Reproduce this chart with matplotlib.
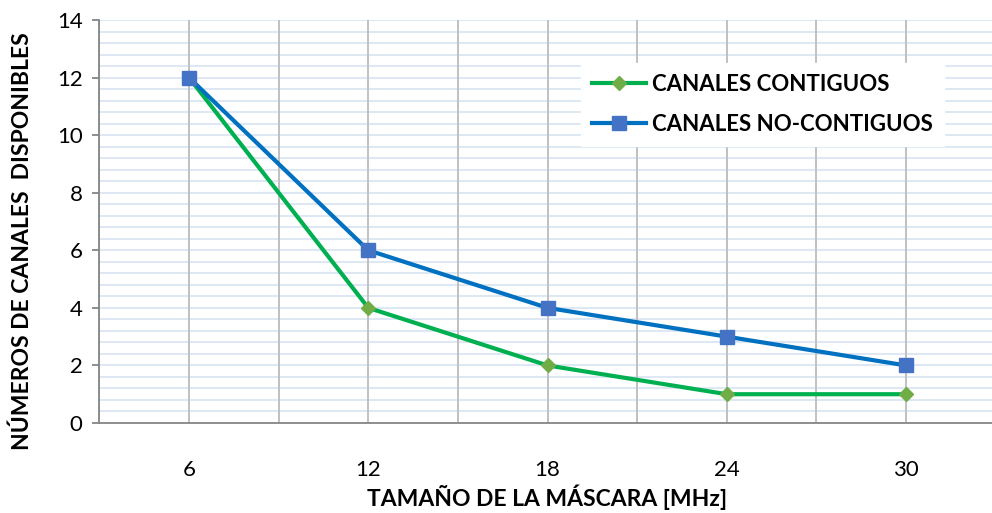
import matplotlib
matplotlib.use("Agg")
import matplotlib.pyplot as plt
import numpy as np
from matplotlib.ticker import MultipleLocator

plt.rcParams['font.family'] = ['Lato', 'DejaVu Sans']

categories = ['6', '12', '18', '24', '30']
contiguos = [12, 4, 2, 1, 1]
no_contiguos = [12, 6, 4, 3, 2]

fig = plt.figure(figsize=(9.92, 5.13), dpi=100)
ax = fig.add_axes([99.4/992, 1-423/513, (995.6-99.4)/992, (423-20)/513])

x = np.arange(len(categories))
ax.plot(x, contiguos, color='#00b050', lw=3, marker='D', ms=7.5,
        mfc='#70ad47', mec='#70ad47', label='CANALES CONTIGUOS', zorder=3)
ax.plot(x, no_contiguos, color='#0070c0', lw=3, marker='s', ms=10,
        mfc='#4472c4', mec='#4472c4', label='CANALES NO-CONTIGUOS', zorder=4)

ax.set_xlim(-0.5, len(categories) - 0.5)
ax.set_ylim(0, 14)
ax.set_xticks(x)
ax.set_xticklabels(categories)
ax.xaxis.set_minor_locator(MultipleLocator(1, offset=0.5))
ax.yaxis.set_major_locator(MultipleLocator(2))
ax.yaxis.set_minor_locator(MultipleLocator(0.4))

ax.grid(axis='x', which='both', color='#c0c0c0', lw=1.4)
ax.grid(axis='y', which='both', color='#dae6f3', lw=1.3)
ax.set_axisbelow(True)
ax.yaxis.set_zorder(0.4)
ax.xaxis.set_zorder(0.6)

for s in ['top', 'right']:
    ax.spines[s].set_visible(False)
for s in ['left', 'bottom']:
    ax.spines[s].set_color('#868686')
    ax.spines[s].set_linewidth(1.3)
    ax.spines[s].set_zorder(2)

ax.tick_params(axis='x', which='both', length=0, pad=27, labelsize=16)
ax.tick_params(axis='y', which='major', length=5, width=1.3, color='#868686', pad=7, labelsize=16)
ax.tick_params(axis='y', which='minor', length=0)

ax.set_xlabel('TAMAÑO DE LA MÁSCARA [MHz]', fontsize=16.5, fontweight='bold', va='center')
ax.xaxis.set_label_coords(0.5, (423-497)/403)
ax.set_ylabel('NÚMEROS DE CANALES  DISPONIBLES', fontsize=16.5, fontweight='bold', va='center')
ax.yaxis.set_label_coords((22-99.4)/896.2, (423-241)/403)

leg = ax.legend(loc='upper left', bbox_to_anchor=((570-99.4)/896.2, 1-(52-20)/403),
                frameon=True, fancybox=False, framealpha=1, edgecolor='white',
                prop={'size': 16, 'weight': 'bold'}, handlelength=2.4,
                handletextpad=0.3, labelspacing=0.85, borderpad=0.5)

fig.savefig('out.png', dpi=100)
